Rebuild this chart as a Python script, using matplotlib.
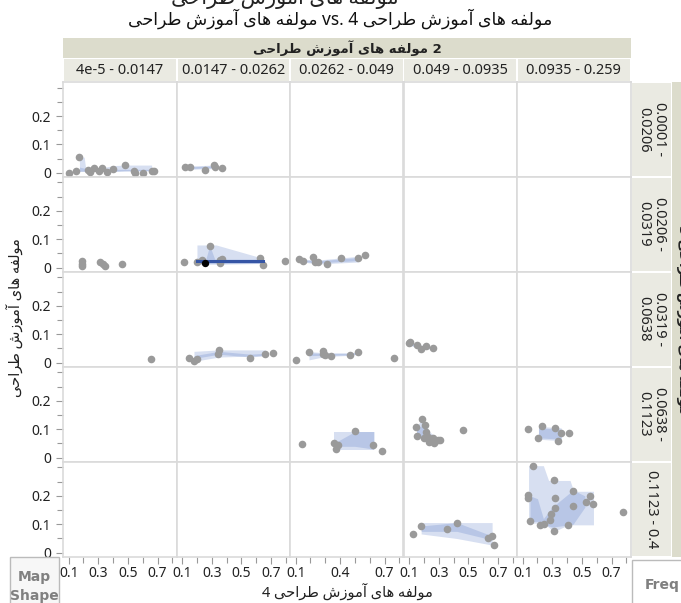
import matplotlib
matplotlib.use('Agg')
import matplotlib.pyplot as plt
from matplotlib.patches import Rectangle

plt.rcParams['font.family'] = ['Noto Sans', 'DejaVu Sans']

W, H = 681, 603

VAR = 'مولفه های آموزش طراحی'

col_bins = ['4e-5 - 0.0147', '0.0147 - 0.0262', '0.0262 - 0.049', '0.049 - 0.0935', '0.0935 - 0.259']
row_bins = ['0.0001 -\n0.0206', '0.0206 -\n0.0319', '0.0319 -\n0.0638', '0.0638 -\n0.1123', '0.1123 - 0.4']

# points per panel, rRcC = row R (top=1) / column C (left=1)
x_r1c1 = [0.103, 0.151, 0.173, 0.23, 0.245, 0.274, 0.308, 0.324, 0.362, 0.399, 0.482, 0.538, 0.549, 0.605, 0.662, 0.673]
y_r1c1 = [0.0, 0.007, 0.054, 0.01, 0.001, 0.015, 0.007, 0.015, 0.001, 0.012, 0.026, 0.007, 0.0, 0.0, 0.007, 0.007]
x_r1c2 = [0.117, 0.155, 0.257, 0.313, 0.32, 0.368]
y_r1c2 = [0.019, 0.021, 0.01, 0.027, 0.021, 0.016]

x_r2c1 = [0.189, 0.189, 0.189, 0.313, 0.331, 0.347, 0.459]
y_r2c1 = [0.024, 0.014, 0.006, 0.021, 0.012, 0.006, 0.012]
x_r2c2 = [0.112, 0.2, 0.234, 0.286, 0.353, 0.358, 0.371, 0.628, 0.646, 0.793]
y_r2c2 = [0.021, 0.021, 0.027, 0.078, 0.027, 0.015, 0.03, 0.033, 0.01, 0.025]
x_r2c3 = [0.124, 0.149, 0.216, 0.232, 0.254, 0.315, 0.407, 0.52, 0.569]
y_r2c3 = [0.031, 0.025, 0.037, 0.021, 0.02, 0.014, 0.034, 0.034, 0.044]

x_r3c1 = [0.655]
y_r3c1 = [0.013]
x_r3c2 = [0.149, 0.178, 0.199, 0.347, 0.34, 0.561, 0.662, 0.714]
y_r3c2 = [0.018, 0.006, 0.012, 0.045, 0.03, 0.018, 0.03, 0.033]
x_r3c3 = [0.103, 0.191, 0.288, 0.284, 0.3, 0.338, 0.468, 0.518, 0.767]
y_r3c3 = [0.01, 0.039, 0.042, 0.031, 0.027, 0.024, 0.027, 0.038, 0.018]
x_r3c4 = [0.1, 0.108, 0.152, 0.179, 0.215, 0.26]
y_r3c4 = [0.069, 0.074, 0.062, 0.047, 0.059, 0.05]

x_r4c3 = [0.142, 0.356, 0.383, 0.374, 0.5, 0.624, 0.681]
y_r4c3 = [0.047, 0.053, 0.045, 0.03, 0.094, 0.045, 0.025]
x_r4c4 = [0.186, 0.208, 0.147, 0.215, 0.152, 0.197, 0.226, 0.237, 0.264, 0.298, 0.269, 0.305, 0.463]
y_r4c4 = [0.137, 0.115, 0.107, 0.09, 0.078, 0.071, 0.072, 0.054, 0.069, 0.063, 0.053, 0.063, 0.098]
x_r4c5 = [0.139, 0.234, 0.32, 0.358, 0.414, 0.207, 0.338]
y_r4c5 = [0.1, 0.112, 0.104, 0.086, 0.086, 0.069, 0.06]

x_r5c4 = [0.129, 0.181, 0.355, 0.422, 0.63, 0.66, 0.671]
y_r5c4 = [0.065, 0.094, 0.084, 0.106, 0.053, 0.059, 0.027]
x_r5c5 = [0.173, 0.139, 0.135, 0.151, 0.214, 0.241, 0.286, 0.291, 0.32, 0.32, 0.315, 0.313, 0.405, 0.437, 0.437, 0.527, 0.556, 0.578, 0.777]
y_r5c5 = [0.304, 0.204, 0.192, 0.112, 0.098, 0.101, 0.115, 0.137, 0.157, 0.192, 0.254, 0.077, 0.098, 0.218, 0.163, 0.178, 0.2, 0.171, 0.144]

# shaded areas: (x, low, high), outer range and inner area
out_r1c1 = ([0.173, 0.205, 0.215, 0.30, 0.40, 0.48, 0.66], [0.005, 0.005, 0.003, 0.005, 0.005, 0.007, 0.007], [0.055, 0.055, 0.015, 0.015, 0.025, 0.027, 0.027])
in_r1c1 = ([0.173, 0.24, 0.40, 0.66], [0.005, 0.005, 0.005, 0.007], [0.02, 0.012, 0.012, 0.012])
out_r1c2 = ([0.155, 0.32], [0.012, 0.015], [0.024, 0.027])
in_r1c2 = ([0.155, 0.32], [0.015, 0.018], [0.021, 0.024])
out_r2c2 = ([0.2, 0.33, 0.646], [0.012, 0.012, 0.015], [0.08, 0.08, 0.033])
in_r2c2 = ([0.2, 0.26, 0.286, 0.32, 0.646], [0.015, 0.015, 0.015, 0.015, 0.015], [0.025, 0.03, 0.078, 0.03, 0.03])
out_r2c3 = ([0.15, 0.25, 0.52], [0.02, 0.013, 0.02], [0.03, 0.027, 0.04])
in_r2c3 = ([0.15, 0.25, 0.52], [0.022, 0.017, 0.025], [0.027, 0.024, 0.036])
out_r3c2 = ([0.18, 0.35, 0.66], [0.005, 0.02, 0.025], [0.04, 0.045, 0.045])
in_r3c2 = ([0.18, 0.35, 0.56, 0.66], [0.015, 0.03, 0.02, 0.025], [0.025, 0.04, 0.03, 0.033])
out_r3c3 = ([0.19, 0.3, 0.47, 0.52], [0.01, 0.022, 0.026, 0.03], [0.039, 0.035, 0.035, 0.038])
in_r3c3 = ([0.19, 0.3, 0.47, 0.52], [0.025, 0.026, 0.028, 0.032], [0.035, 0.032, 0.032, 0.036])
out_r3c4 = ([0.1, 0.18, 0.26], [0.062, 0.048, 0.05], [0.072, 0.062, 0.055])
in_r3c4 = ([0.1, 0.18, 0.26], [0.064, 0.052, 0.051], [0.07, 0.058, 0.054])
out_r4c3 = ([0.356, 0.63], [0.027, 0.027], [0.092, 0.092])
in_r4c3 = ([0.356, 0.5, 0.63], [0.04, 0.04, 0.03], [0.05, 0.092, 0.092])
out_r4c4 = ([0.15, 0.19, 0.24, 0.30], [0.07, 0.07, 0.05, 0.055], [0.11, 0.137, 0.09, 0.065])
in_r4c4 = ([0.15, 0.19, 0.24, 0.30], [0.075, 0.075, 0.056, 0.058], [0.1, 0.115, 0.08, 0.063])
out_r4c5 = ([0.207, 0.36], [0.065, 0.06], [0.11, 0.105])
in_r4c5 = ([0.207, 0.36], [0.07, 0.065], [0.105, 0.1])
out_r5c4 = ([0.181, 0.422, 0.66], [0.066, 0.05, 0.027], [0.106, 0.106, 0.106])
in_r5c4 = ([0.181, 0.422, 0.66], [0.075, 0.075, 0.045], [0.094, 0.106, 0.059])
out_r5c5 = ([0.14, 0.24, 0.275, 0.308, 0.41, 0.42, 0.445, 0.578], [0.104, 0.104, 0.09, 0.074, 0.098, 0.098, 0.098, 0.098], [0.306, 0.306, 0.254, 0.254, 0.254, 0.254, 0.216, 0.216])
in_r5c5 = ([0.15, 0.2, 0.24, 0.3, 0.44, 0.52], [0.11, 0.11, 0.1, 0.09, 0.1, 0.16], [0.2, 0.19, 0.12, 0.16, 0.22, 0.2])

# selected row in panel r2c2
sel_line_x = [0.2, 0.646]
sel_line_y = [0.023, 0.023]
sel_pt_x = [0.252]
sel_pt_y = [0.018]

panels = [
    (1, 1, x_r1c1, y_r1c1, out_r1c1, in_r1c1),
    (1, 2, x_r1c2, y_r1c2, out_r1c2, in_r1c2),
    (2, 1, x_r2c1, y_r2c1, None, None),
    (2, 2, x_r2c2, y_r2c2, out_r2c2, in_r2c2),
    (2, 3, x_r2c3, y_r2c3, out_r2c3, in_r2c3),
    (3, 1, x_r3c1, y_r3c1, None, None),
    (3, 2, x_r3c2, y_r3c2, out_r3c2, in_r3c2),
    (3, 3, x_r3c3, y_r3c3, out_r3c3, in_r3c3),
    (3, 4, x_r3c4, y_r3c4, out_r3c4, in_r3c4),
    (4, 3, x_r4c3, y_r4c3, out_r4c3, in_r4c3),
    (4, 4, x_r4c4, y_r4c4, out_r4c4, in_r4c4),
    (4, 5, x_r4c5, y_r4c5, out_r4c5, in_r4c5),
    (5, 4, x_r5c4, y_r5c4, out_r5c4, in_r5c4),
    (5, 5, x_r5c5, y_r5c5, out_r5c5, in_r5c5),
]

# matplotlib has no arabic shaping, so pick presentation forms by hand
FORMS = {
    'ا': ('\uFE8D', '\uFE8E', None, None),
    'آ': ('\uFE81', '\uFE82', None, None),
    'ح': ('\uFEA1', '\uFEA2', '\uFEA3', '\uFEA4'),
    'ر': ('\uFEAD', '\uFEAE', None, None),
    'ز': ('\uFEAF', '\uFEB0', None, None),
    'ش': ('\uFEB5', '\uFEB6', '\uFEB7', '\uFEB8'),
    'ط': ('\uFEC1', '\uFEC2', '\uFEC3', '\uFEC4'),
    'ف': ('\uFED1', '\uFED2', '\uFED3', '\uFED4'),
    'ل': ('\uFEDD', '\uFEDE', '\uFEDF', '\uFEE0'),
    'م': ('\uFEE1', '\uFEE2', '\uFEE3', '\uFEE4'),
    'ه': ('\uFEE9', '\uFEEA', '\uFEEB', '\uFEEC'),
    'و': ('\uFEED', '\uFEEE', None, None),
    'ی': ('\uFBFC', '\uFBFD', '\uFBFE', '\uFBFF'),
}


def shape(text):
    out = []
    for i, ch in enumerate(text):
        f = FORMS.get(ch)
        if f is None:
            out.append(ch)
            continue
        prev = text[i - 1] if i > 0 else ''
        nxt = text[i + 1] if i + 1 < len(text) else ''
        jp = prev in FORMS and FORMS[prev][2] is not None
        jn = f[2] is not None and nxt in FORMS
        if jp and jn:
            out.append(f[3])
        elif jp:
            out.append(f[1])
        elif jn:
            out.append(f[2])
        else:
            out.append(f[0])
    return ''.join(reversed(out))


def rect(x0, y0, x1, y1, **kw):
    return Rectangle((x0 / W, 1 - y1 / H), (x1 - x0) / W, (y1 - y0) / H,
                     transform=fig.transFigure, **kw)


fig = plt.figure(figsize=(W / 100, H / 100), dpi=100)

col_edges = [63, 176.5, 290, 403.5, 517, 630.5]
row_edges = [82, 176.7, 271.7, 366.7, 461.7, 556.7]
grid_c = '#DADADA'
strip_c = '#EAEAE2'
group_c = '#DCDCCC'
pt_c = '#9A9A9A'
band_c = '#4A6FC0'

axes = {}
for r in range(5):
    for c in range(5):
        x0, x1 = col_edges[c], col_edges[c + 1]
        y0, y1 = row_edges[r], row_edges[r + 1]
        ax = fig.add_axes([x0 / W, 1 - y1 / H, (x1 - x0) / W, (y1 - y0) / H])
        ax.set_xlim(0.062, 0.828)
        ax.set_ylim(-0.014, 0.32)
        for s in ax.spines.values():
            s.set_color(grid_c)
            s.set_linewidth(1.2)
        ax.tick_params(colors='#999999', labelcolor='#222222', labelsize=10, length=5, width=0.8)
        ax.tick_params(which='minor', colors='#999999', length=4, width=0.8)
        if c == 0:
            ax.set_yticks([0, 0.1, 0.2])
            ax.set_yticklabels(['0', '0.1', '0.2'])
            ax.set_yticks([0.05, 0.15, 0.25, 0.3], minor=True)
        else:
            ax.set_yticks([])
        if r == 4:
            if c == 2:
                ax.set_xticks([0.1, 0.4, 0.7])
                ax.set_xticklabels(['0.1', '0.4', '0.7'])
                ax.set_xticks([0.2, 0.3, 0.5, 0.6, 0.8], minor=True)
            else:
                ax.set_xticks([0.1, 0.3, 0.5, 0.7])
                ax.set_xticklabels(['0.1', '0.3', '0.5', '0.7'])
                ax.set_xticks([0.2, 0.4, 0.6, 0.8], minor=True)
            ax.tick_params(axis='x', pad=2)
        else:
            ax.set_xticks([])
        axes[(r + 1, c + 1)] = ax

for r, c, xs, ys, outer, inner in panels:
    ax = axes[(r, c)]
    if outer is not None:
        ax.fill_between(outer[0], outer[1], outer[2], color=band_c, alpha=0.22, lw=0, zorder=1)
        ax.fill_between(inner[0], inner[1], inner[2], color=band_c, alpha=0.22, lw=0, zorder=1)
    ax.scatter(xs, ys, s=30, color=pt_c, lw=0, zorder=3)

axes[(2, 2)].plot(sel_line_x, sel_line_y, color='#3555A5', lw=2.2, zorder=4)
axes[(2, 2)].scatter(sel_pt_x, sel_pt_y, s=28, color='black', lw=0, zorder=5)

bold = dict(family=['DejaVu Sans'], fontweight='bold')

# strips
fig.patches.append(rect(63, 38, 630.5, 58, facecolor=group_c, lw=0))
fig.text(347 / W, 1 - 48 / H, shape(VAR) + ' 2', ha='center', va='center',
         fontsize=9.5, color='#222222', **bold)
for i, lab in enumerate(col_bins):
    fig.patches.append(rect(col_edges[i] + 1, 59, col_edges[i + 1] - 1, 80.5, facecolor=strip_c, lw=0))
    fig.text((col_edges[i] + col_edges[i + 1]) / 2 / W, 1 - 70 / H, lab, ha='center', va='center',
             fontsize=10.5, color='#222222')

for i, lab in enumerate(row_bins):
    fig.patches.append(rect(632, row_edges[i] + 1, 671, row_edges[i + 1] - 1, facecolor=strip_c, lw=0))
    fig.text(651.5 / W, 1 - (row_edges[i] + row_edges[i + 1]) / 2 / H, lab, ha='center', va='center',
             rotation=-90, fontsize=10.5, color='#222222', linespacing=1.0)
fig.patches.append(rect(672, 82, 681, 556.7, facecolor=group_c, lw=0))
fig.text(684 / W, 1 - 319 / H, '3 ' + shape(VAR), ha='center', va='center', rotation=-90,
         fontsize=9.5, color='#222222', **bold)

# titles
fig.text(285 / W, 1 - (-3) / H, shape(VAR), ha='center', va='center', fontsize=15, color='#222222')
fig.text(340 / W, 1 - 19 / H, shape(VAR) + ' vs. 4 ' + shape(VAR), ha='center', va='center',
         fontsize=12.5, color='#111111')
fig.text(15 / W, 1 - 318 / H, shape(VAR), ha='center', va='center', rotation=90,
         fontsize=10.5, color='#222222')
fig.text(347 / W, 1 - 592 / H, '4 ' + shape(VAR), ha='center', va='center',
         fontsize=10.5, color='#222222')

# bottom corner boxes
fig.patches.append(rect(10, 557, 59, 604, facecolor='#F7F7F7', edgecolor='#BBBBBB', lw=1))
fig.text(34 / W, 1 - 577 / H, 'Map', ha='center', va='center', fontsize=10, color='#808080', **bold)
fig.text(34 / W, 1 - 596 / H, 'Shape', ha='center', va='center', fontsize=10, color='#808080', **bold)
fig.patches.append(rect(632, 560, 682, 604, facecolor='white', edgecolor='#BBBBBB', lw=1))
fig.text(662 / W, 1 - 585 / H, 'Freq', ha='center', va='center', fontsize=10, color='#808080', **bold)

fig.savefig('out.png', dpi=100)
